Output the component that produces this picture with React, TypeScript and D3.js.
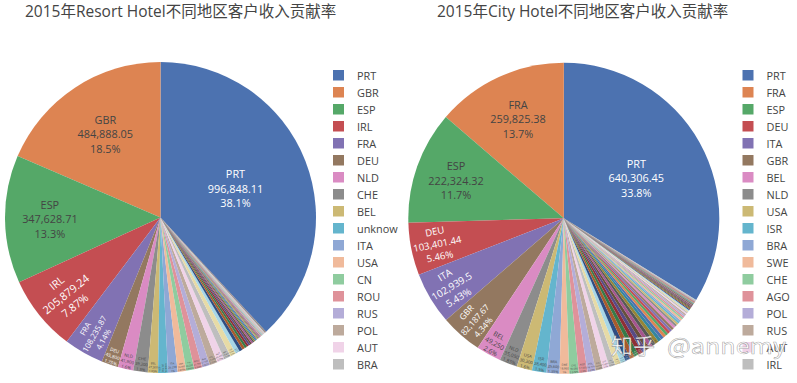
import React, { useMemo } from 'react';
import * as d3 from 'd3';

const W = 797;
const H = 383;

// ---------- Resort Hotel ----------
const resortTitle = '2015年Resort Hotel不同地区客户收入贡献率';
const resortLabels = [
  'PRT', 'GBR', 'ESP', 'IRL', 'FRA', 'DEU', 'NLD', 'CHE', 'BEL', 'unknow',
  'ITA', 'USA', 'CN', 'ROU', 'RUS', 'POL', 'AUT', 'BRA', 'SWE', 'DNK',
  'NOR', 'FIN', 'LUX', 'ISR', 'CHN', 'AUS', 'JPN', 'KOR', 'IND', 'ARG',
  'HUN', 'CZE', 'TUR', 'MAR', 'GRC', 'AGO', 'ZAF', 'LVA', 'LTU', 'EST',
  'SVK', 'SVN', 'HRV', 'BGR', 'SRB', 'UKR', 'MEX', 'CHL', 'COL', 'NZL',
  'DZA', 'MOZ', 'CPV', 'ISL', 'CYP', 'MLT', 'PHL', 'TWN', 'SGP', 'THA',
  'NGA', 'ARE', 'SAU', 'EGY', 'BLR', 'KAZ',
];
const resortValues = [
  996848.11, 484888.05, 347628.71, 205879.24, 108235.87, 45800, 41900, 39200, 27500, 26700,
  26200, 23000, 22200, 21700, 21500, 20900, 20400, 18800, 15700, 11800,
  9000, 7600, 6500, 5800, 5200, 4700, 4300, 3900, 3600, 3300,
  3000, 2800, 2600, 2400, 2200, 2000, 1850, 1700, 1550, 1400,
  1300, 1200, 1100, 1000, 920, 850, 780, 720, 660, 600,
  550, 500, 450, 400, 360, 320, 280, 240, 200, 170,
  140, 110, 90, 70, 50, 30,
];

// ---------- City Hotel ----------
const cityTitle = '2015年City Hotel不同地区客户收入贡献率';
const cityLabels = [
  'PRT', 'FRA', 'ESP', 'DEU', 'ITA', 'GBR', 'BEL', 'NLD', 'USA', 'ISR',
  'BRA', 'SWE', 'CHE', 'AGO', 'POL', 'RUS', 'AUT', 'IRL', 'CHN', 'NOR',
  'AUS', 'DNK', 'CN', 'FIN', 'KOR', 'JPN', 'LUX', 'ARG', 'IND', 'HUN',
  'TUR', 'MAR', 'CZE', 'GRC', 'ROU', 'NZL', 'MEX', 'DZA', 'HRV', 'COL',
  'IRN', 'CHL', 'UKR', 'SRB', 'EST', 'ZAF', 'SVK', 'BGR', 'LTU', 'TWN',
  'SVN', 'THA', 'CPV', 'MOZ', 'SGP', 'ISL', 'LVA', 'PHL', 'NGA', 'PER',
  'MYS', 'IDN', 'SAU', 'CYP', 'ARE', 'TUN', 'EGY', 'VEN', 'LBN', 'URY',
  'QAT', 'KAZ', 'JOR', 'BLR', 'MLT', 'CMR', 'IRQ', 'PAK', 'GEO', 'ECU',
];
const cityValues = [
  640306.45, 259825.38, 222324.32, 103401.44, 102939.5, 82187.67, 49250, 35050, 30300, 28400,
  25600, 18950, 18560, 17050, 16100, 14200, 13260, 11750, 11500, 10200,
  9900, 9300, 8900, 8600, 8200, 7800, 7400, 7100, 7000, 6600,
  6200, 5800, 5500, 5200, 5000, 4900, 4600, 4300, 4000, 3800,
  3600, 3500, 3400, 3200, 3000, 2800, 2600, 2500, 2450, 2300,
  2150, 2000, 1850, 1700, 1600, 1500, 1400, 1300, 1200, 1100,
  1000, 920, 840, 760, 690, 620, 560, 500, 450, 400,
  350, 300, 260, 220, 180, 150, 120, 90, 70, 50,
];

// ---------- colours ----------
const palette = [
  '#4C72B0', '#DD8452', '#55A868', '#C44E52', '#8172B3', '#937860', '#DA8BC3', '#8C8C8C', '#CCB974', '#64B5CD',
  '#8FA8D5', '#F0BA9B', '#8FCC9F', '#DF929A', '#B4ADD8', '#BDAA9C', '#F0D3E8', '#BEBEBE', '#E7DBA6', '#A7D6E6',
  '#2F4E82', '#A85A2C', '#367A48', '#8E2F35', '#574A87', '#664F3C', '#A6558F', '#575757', '#968536', '#34869E',
];

const FS = 10.9;
const FONT = '"Open Sans", "Noto Sans CJK SC", sans-serif';
const TEXTPAD = 3;

let ctx: CanvasRenderingContext2D | null = null;
function measure(s: string, fs: number) {
  if (!ctx) ctx = document.createElement('canvas').getContext('2d');
  if (!ctx) return s.length * fs * 0.58;
  ctx.font = `${fs}px "Open Sans"`;
  return ctx.measureText(s).width;
}

function fmtVal(v: number) {
  return d3.format(',')(+v.toPrecision(10));
}
function fmtPct(p: number) {
  let s = (p * 100).toPrecision(3);
  if (s.indexOf('.') !== -1) s = s.replace(/[.]?0+$/, '');
  return s + '%';
}
function contrast(c: string) {
  const rgb = d3.rgb(c);
  const b = (rgb.r * 299 + rgb.g * 587 + rgb.b * 114) / 1000;
  return b < 128 ? '#fff' : '#444';
}
function calcRotate(t: number) {
  return (((180 / Math.PI) * t + 720) % 180) - 90;
}
function calcMaxHalfSize(a: number, half: number, r: number, ring: number) {
  const q = a + 1 / (2 * Math.tan(half));
  return r * Math.min(1 / (Math.sqrt(q * q + 0.5) + q), ring / (Math.sqrt(a * a + ring / 2) + a));
}
function calcRCenter(a: number, b: number) {
  return Math.cos(b) - a * b;
}

type PieProps = {
  labels: string[];
  values: number[];
  title: string;
  titleX: number;
  cx: number;
  cy: number;
  r: number;
  legendX: number;
};

function Pie({ labels, values, title, titleX, cx, cy, r, legendX }: PieProps) {
  const total = d3.sum(values);
  const a0 = (2 * Math.PI * values[0]) / total;
  const arcs = d3
    .pie<number>()
    .sort(null)
    .value((d) => d)
    .startAngle(a0)
    .endAngle(a0 - 2 * Math.PI)(values);
  const arcGen = d3.arc<d3.PieArcDatum<number>>().innerRadius(0).outerRadius(r);

  const texts = arcs.map((a, i) => {
    const lines = [labels[i], fmtVal(values[i]), fmtPct(values[i] / total)];
    const tw = Math.max(...lines.map((l) => measure(l, FS)));
    const th = FS * 3.6;
    const delta = Math.abs(a.endAngle - a.startAngle);
    const mid = (a.startAngle + a.endAngle) / 2;
    const half = Math.min(Math.PI, delta) / 2;
    const sh = Math.sin(half);
    const rIns = Math.min(sh / (1 + sh), 0.5);
    const diag = Math.sqrt(tw * tw + th * th);
    const hT = { scale: (rIns * r * 2) / diag, rCenter: 1 - rIns, rotate: 0 };
    let best = hT;
    if (hT.scale < 1) {
      const rr = Math.max(0, r - 2 * TEXTPAD);
      const aR = tw / th;
      const sR = calcMaxHalfSize(aR, delta / 2, rr, 1);
      const radT = { scale: (sR * 2) / th, rCenter: calcRCenter(aR, sR / rr), rotate: calcRotate(mid) };
      const aT = th / tw;
      const sT = calcMaxHalfSize(aT, delta / 2, rr, 1);
      const tanT = { scale: (sT * 2) / tw, rCenter: calcRCenter(aT, sT / rr), rotate: calcRotate(mid + Math.PI / 2) };
      for (const t of [radT, tanT]) if (t.scale > best.scale) best = t;
    }
    const scale = Math.min(1, best.scale);
    const x = cx + best.rCenter * r * Math.sin(mid);
    const y = cy - best.rCenter * r * Math.cos(mid);
    return { lines, scale, x, y, rotate: best.rotate, color: contrast(palette[i % palette.length]) };
  });

  const rowY0 = 75;
  const rowStep = 17;

  return (
    <g>
      <text x={titleX} y={17} fontFamily={FONT} fontSize={15.5} fill="#444">
        {title}
      </text>
      <g transform={`translate(${cx},${cy})`}>
        {arcs.map((a, i) => (
          <path key={i} d={arcGen(a) || ''} fill={palette[i % palette.length]} />
        ))}
      </g>
      {texts.map((t, i) =>
        t.scale * FS < 1 ? null : (
          <g key={i} transform={`translate(${t.x},${t.y}) rotate(${t.rotate}) scale(${t.scale})`}>
            <text textAnchor="middle" fontFamily={FONT} fontSize={FS} fill={t.color}>
              {t.lines.map((l, k) => (
                <tspan key={k} x={0} y={(k - 1) * FS * 1.33} dominantBaseline="central">
                  {l}
                </tspan>
              ))}
            </text>
          </g>
        )
      )}
      {labels.slice(0, 18).map((l, i) => (
        <g key={l} transform={`translate(${legendX},${rowY0 + i * rowStep})`}>
          <rect x={0} y={-5} width={11} height={10.5} fill={palette[i % palette.length]} />
          <text x={24} y={0} dominantBaseline="central" fontFamily={FONT} fontSize={FS} fill="#444">
            {l}
          </text>
        </g>
      ))}
    </g>
  );
}

export default function App() {
  const content = useMemo(
    () => (
      <>
        <Pie labels={resortLabels} values={resortValues} title={resortTitle} titleX={25} cx={160.5} cy={217.5} r={155.5} legendX={333} />
        <Pie labels={cityLabels} values={cityValues} title={cityTitle} titleX={437} cx={563.8} cy={218.3} r={155.5} legendX={742.5} />
      </>
    ),
    []
  );
  return (
    <svg width={W} height={H} style={{ position: 'absolute', left: 0, top: 0, background: '#fff' }}>
      <rect width={W} height={H} fill="#fff" />
      {content}
      <g fontFamily='"Noto Sans CJK SC", sans-serif' fill="rgba(255,255,255,0.92)" stroke="rgba(60,60,60,0.45)" strokeWidth={0.6}>
        <text x={611} y={354} fontSize={22}>知乎</text>
        <text x={667} y={354} fontSize={22} textLength={119} lengthAdjust="spacingAndGlyphs">@annemy</text>
      </g>
    </svg>
  );
}
